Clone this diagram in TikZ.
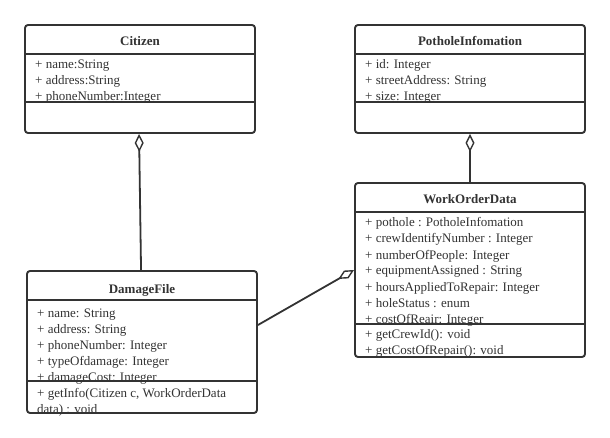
\documentclass[tikz,border=0pt]{standalone}
\usepackage{fontspec}
\setmainfont{Liberation Serif}
\usetikzlibrary{arrows.meta,calc}
\definecolor{ink}{HTML}{333333}
\begin{document}
\begin{tikzpicture}[x=1pt,y=-1pt,
  cls/.style={draw=ink, line width=1.9pt, rounded corners=3pt, minimum width=230pt, inner sep=0pt, fill=white},
  ttl/.style={font=\fontsize{13}{16}\selectfont\bfseries, text=ink, anchor=base, inner sep=0pt},
  att/.style={font=\fontsize{13}{16}\selectfont, text=ink, anchor=base west, inner sep=0pt},
  sep/.style={draw=ink, line width=1.9pt},
  agg/.style={draw=ink, line width=1.8pt, -{Diamond[fill=white, length=18pt, width=9pt, line width=1.4pt]}}
]
\useasboundingbox[fill=white] (0,0) rectangle (610,438);
% boxes
\node[cls, minimum height=108pt] (cit) at (140,79) {};
\node[cls, minimum height=108pt] (pot) at (470,79) {};
\node[cls, minimum height=174pt] (wod) at (470,270) {};
\node[cls, minimum height=142pt] (df) at (142,342) {};
% connectors
\draw[agg] ([xshift=115pt]df.north west) -- ([xshift=115pt]cit.south west);
\draw[agg] (wod.north) -- (pot.south);
\draw[agg] ([yshift=17pt]df.east) -- (wod.west);
% Citizen
\draw[sep] ([yshift=-30pt]cit.north west) -- ([yshift=-30pt]cit.north east);
\draw[sep] ([yshift=-78pt]cit.north west) -- ([yshift=-78pt]cit.north east);
\node[ttl] (citT) at (140,46) {Citizen};
\node[att] (cit1) at (35,69) {+ name:String};
\node[att] (cit2) at (35,85) {+ address:String};
\node[att] (cit3) at (35,101) {+ phoneNumber:Integer};
% PotholeInfomation
\draw[sep] ([yshift=-30pt]pot.north west) -- ([yshift=-30pt]pot.north east);
\draw[sep] ([yshift=-78pt]pot.north west) -- ([yshift=-78pt]pot.north east);
\node[ttl] (potT) at (470,46) {PotholeInfomation};
\node[att] (pot1) at (365,69) {+ id: Integer};
\node[att] (pot2) at (365,85) {+ streetAddress: String};
\node[att] (pot3) at (365,101) {+ size: Integer};
% WorkOrderData
\draw[sep] ([yshift=-30pt]wod.north west) -- ([yshift=-30pt]wod.north east);
\draw[sep] ([yshift=-142pt]wod.north west) -- ([yshift=-142pt]wod.north east);
\node[ttl] (wodT) at (470,204) {WorkOrderData};
\node[att] (wod1) at (365,227) {+ pothole : PotholeInfomation};
\node[att] (wod2) at (365,243) {+ crewIdentifyNumber : Integer};
\node[att] (wod3) at (365,259) {+ numberOfPeople: Integer};
\node[att] (wod4) at (365,275) {+ equipmentAssigned : String};
\node[att] (wod5) at (365,291) {+ hoursAppliedToRepair: Integer};
\node[att] (wod6) at (365,307) {+ holeStatus : enum};
\node[att] (wod7) at (365,323) {+ costOfReair: Integer};
\node[att] (wodm1) at (365,338) {+ getCrewId(): void};
\node[att] (wodm2) at (365,354) {+ getCostOfRepair(): void};
% DamageFile
\draw[sep] ([yshift=-30pt]df.north west) -- ([yshift=-30pt]df.north east);
\draw[sep] ([yshift=-111pt]df.north west) -- ([yshift=-111pt]df.north east);
\node[ttl] (dfT) at (142,293) {DamageFile};
\node[att] (df1) at (37,317) {+ name: String};
\node[att] (df2) at (37,333) {+ address: String};
\node[att] (df3) at (37,349) {+ phoneNumber: Integer};
\node[att] (df4) at (37,365) {+ typeOfdamage: Integer};
\node[att] (df5) at (37,381) {+ damageCost: Integer};
\node[att] (dfm1) at (37,397) {+ getInfo(Citizen c, WorkOrderData};
\node[att] (dfm2) at (37,413) {data) : void};
\end{tikzpicture}
\end{document}
